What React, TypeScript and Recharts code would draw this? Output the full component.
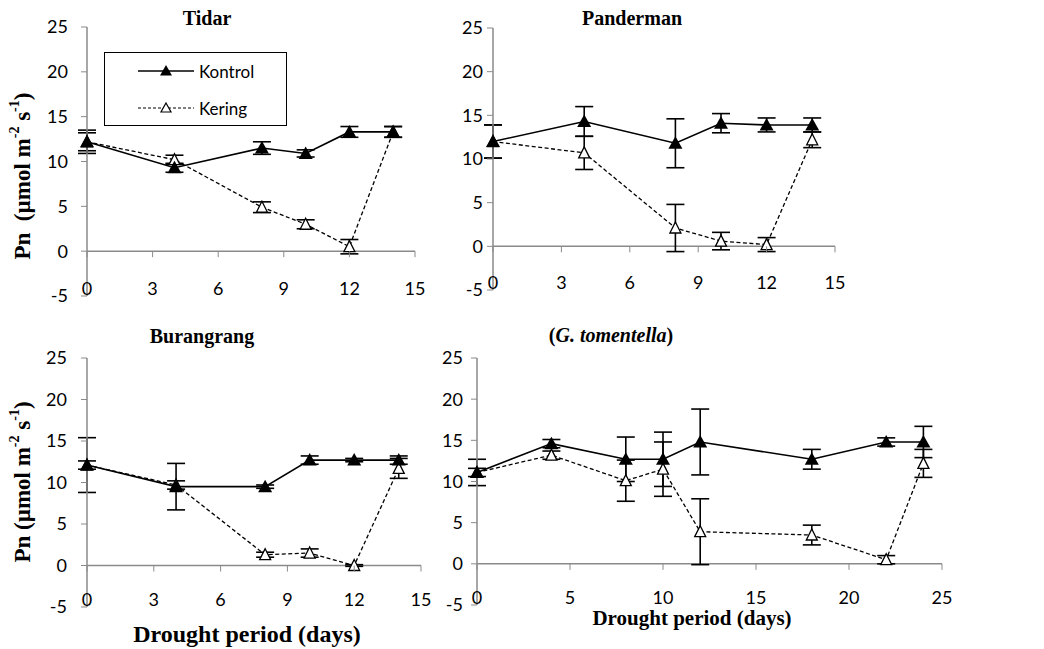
import React from "react";
import { LineChart, Line, XAxis, YAxis, ErrorBar, ReferenceLine, Legend } from "recharts";

// Days of measurement
const shortDays = [0, 4, 8, 10, 12, 14];
const longDays = [0, 4, 8, 10, 12, 18, 22, 24];
const shortTicks = [0, 3, 6, 9, 12, 15];
const longTicks = [0, 5, 10, 15, 20, 25];
const pnTicks = [-5, 0, 5, 10, 15, 20, 25];

// Pn (µmol m-2 s-1); *Err = error bar half-length
const tidarKontrol = [12.2, 9.3, 11.5, 10.9, 13.3, 13.3];
const tidarKontrolErr = [1.3, 0.5, 0.7, 0.4, 0.6, 0.6];
const tidarKering = [12.2, 10.2, 4.9, 3.0, 0.5, 13.3];
const tidarKeringErr = [1.0, 0.5, 0.6, 0.5, 0.8, 0.6];

const pandermanKontrol = [12.0, 14.3, 11.8, 14.1, 13.9, 13.9];
const pandermanKontrolErr = [1.9, 1.7, 2.8, 1.1, 0.8, 0.8];
const pandermanKering = [12.0, 10.7, 2.1, 0.6, 0.2, 12.2];
const pandermanKeringErr = [1.9, 1.9, 2.7, 1.0, 0.8, 0.9];

const burangrangKontrol = [12.1, 9.5, 9.5, 12.7, 12.7, 12.7];
const burangrangKontrolErr = [3.3, 2.8, 0.2, 0.5, 0.2, 0.5];
const burangrangKering = [12.1, 9.7, 1.3, 1.5, 0.0, 11.7];
const burangrangKeringErr = [0.5, 0.5, 0.3, 0.5, 0.1, 1.2];

const tomentellaKontrol = [11.1, 14.6, 12.7, 12.7, 14.8, 12.7, 14.8, 14.8];
const tomentellaKontrolErr = [1.6, 0.5, 2.7, 3.3, 4.0, 1.2, 0.5, 1.9];
const tomentellaKering = [11.1, 13.2, 10.1, 11.5, 3.9, 3.5, 0.5, 12.2];
const tomentellaKeringErr = [0.5, 0.5, 2.5, 3.3, 4.0, 1.2, 0.5, 1.7];

type Row = { day: number; kontrol: number; kontrolErr: number; kering: number; keringErr: number };

const toRows = (days: number[], k: number[], kErr: number[], d: number[], dErr: number[]): Row[] =>
  days.map((day, i) => ({ day, kontrol: k[i], kontrolErr: kErr[i], kering: d[i], keringErr: dErr[i] }));

const GRAY = "#8a8a8a";
const SANS = "Lato, 'Open Sans', sans-serif";
const SERIF = "'Liberation Serif', 'Times New Roman', serif";
const TICK_SIZE = 18;
const X_AXIS_H = 2;

type Rect = { left: number; top: number; right: number; bottom: number };

const solidTriangle = (props: any) => {
  const { cx, cy, index } = props;
  return (
    <path
      key={`ko-${index}`}
      d={`M${cx},${cy - 7} L${cx + 7},${cy + 5.5} L${cx - 7},${cy + 5.5} Z`}
      fill="#000"
    />
  );
};

const hollowTriangle = (props: any) => {
  const { cx, cy, index } = props;
  return (
    <path
      key={`ke-${index}`}
      d={`M${cx},${cy - 6} L${cx + 5.5},${cy + 5} L${cx - 5.5},${cy + 5} Z`}
      fill="#fff"
      stroke="#000"
      strokeWidth={1.3}
    />
  );
};

const legendItems = [
  { name: "Kontrol", dash: undefined as string | undefined, filled: true },
  { name: "Kering", dash: "3 2", filled: false },
];

function LegendBox() {
  return (
    <div
      style={{
        width: 183,
        height: 74,
        border: "1.5px solid #000",
        boxSizing: "border-box",
        background: "#fff",
        position: "relative",
      }}
    >
      {legendItems.map((it, i) => (
        <div
          key={it.name}
          style={{ position: "absolute", left: 33, top: 8 + i * 37, height: 20, display: "flex", alignItems: "center" }}
        >
          <svg width={56} height={20}>
            <line x1={0} x2={56} y1={10} y2={10} stroke="#000" strokeWidth={it.filled ? 1.5 : 1.2} strokeDasharray={it.dash} />
            {it.filled ? (
              <path d="M28,4 L34,14.5 L22,14.5 Z" fill="#000" />
            ) : (
              <path d="M28,5 L33,14 L23,14 Z" fill="#fff" stroke="#000" strokeWidth={1.2} />
            )}
          </svg>
          <span style={{ marginLeft: 5, fontFamily: SANS, fontSize: 17, color: "#000" }}>{it.name}</span>
        </div>
      ))}
    </div>
  );
}

interface PanelProps {
  data: Row[];
  frame: Rect;
  plot: Rect;
  xTicks: number[];
  tickGap: number;
  showLegend?: boolean;
}

function Panel({ data, frame, plot, xTicks, tickGap, showLegend }: PanelProps) {
  const width = frame.right - frame.left;
  const height = frame.bottom - frame.top;
  const margin = {
    top: plot.top - frame.top,
    right: frame.right - plot.right,
    bottom: frame.bottom - plot.bottom - X_AXIS_H,
    left: 0,
  };
  const plotH = plot.bottom - plot.top;
  const zeroY = margin.top + (plotH * 25) / 30;
  const labelY = margin.top + plotH - 8;
  const xMax = xTicks[xTicks.length - 1];

  const renderXTick = (p: any) => (
    <g key={`t-${p.index}`}>
      <line x1={p.x} x2={p.x} y1={zeroY} y2={zeroY + 6} stroke={GRAY} strokeWidth={1} />
      <text x={p.x} y={labelY} textAnchor="middle" dominantBaseline="central" fontFamily={SANS} fontSize={TICK_SIZE} fill="#000">
        {p.payload.value}
      </text>
    </g>
  );

  return (
    <div style={{ position: "absolute", left: frame.left, top: frame.top }}>
      <LineChart width={width} height={height} data={data} margin={margin}>
        <XAxis
          type="number"
          dataKey="day"
          domain={[0, xMax]}
          ticks={xTicks}
          interval={0}
          axisLine={false}
          tickLine={false}
          height={X_AXIS_H}
          tick={renderXTick}
        />
        <YAxis
          type="number"
          domain={[-5, 25]}
          ticks={pnTicks}
          interval={0}
          width={plot.left - frame.left}
          axisLine={{ stroke: GRAY, strokeWidth: 1.5 }}
          tickLine={{ stroke: GRAY, strokeWidth: 1 }}
          tickSize={6}
          tickMargin={tickGap}
          tick={{ fill: "#000", fontSize: TICK_SIZE, fontFamily: SANS }}
        />
        <ReferenceLine y={0} stroke={GRAY} strokeWidth={1.5} />
        <Line
          type="linear"
          dataKey="kering"
          name="Kering"
          stroke="#000"
          strokeWidth={1.3}
          strokeDasharray="4 2.5"
          dot={hollowTriangle}
          activeDot={false}
          isAnimationActive={false}
        >
          <ErrorBar dataKey="keringErr" direction="y" width={9} stroke="#000" strokeWidth={1.6} />
        </Line>
        <Line
          type="linear"
          dataKey="kontrol"
          name="Kontrol"
          stroke="#000"
          strokeWidth={1.6}
          dot={solidTriangle}
          activeDot={false}
          isAnimationActive={false}
        >
          <ErrorBar dataKey="kontrolErr" direction="y" width={9} stroke="#000" strokeWidth={1.6} />
        </Line>
        {showLegend && (
          <Legend
            layout="horizontal"
            align="center"
            verticalAlign="middle"
            content={() => <LegendBox />}
            wrapperStyle={{ left: 104, top: 52, width: 183, height: 74 }}
          />
        )}
      </LineChart>
    </div>
  );
}

function PnLabel({ cx, cy, gap }: { cx: number; cy: number; gap: string }) {
  return (
    <text
      transform={`translate(${cx},${cy}) rotate(-90)`}
      textAnchor="middle"
      dominantBaseline="central"
      fontFamily={SERIF}
      fontWeight="bold"
      fontSize={23}
      fill="#000"
      style={{ whiteSpace: "pre" }}
    >
      {`Pn${gap}(µmol m`}
      <tspan fontSize={14} dy={-8}>-2</tspan>
      <tspan dy={8}> s</tspan>
      <tspan fontSize={14} dy={-8}>-1</tspan>
      <tspan dy={8}>)</tspan>
    </text>
  );
}

export default function App() {
  return (
    <div style={{ position: "absolute", left: 0, top: 0, width: 1044, height: 649, background: "#fff", overflow: "hidden" }}>
      <Panel
        data={toRows(shortDays, tidarKontrol, tidarKontrolErr, tidarKering, tidarKeringErr)}
        frame={{ left: 0, top: 0, right: 430, bottom: 312 }}
        plot={{ left: 87, top: 27, right: 415, bottom: 296 }}
        xTicks={shortTicks}
        tickGap={13}
        showLegend
      />
      <Panel
        data={toRows(shortDays, pandermanKontrol, pandermanKontrolErr, pandermanKering, pandermanKeringErr)}
        frame={{ left: 430, top: 0, right: 860, bottom: 312 }}
        plot={{ left: 493, top: 28, right: 835, bottom: 290 }}
        xTicks={shortTicks}
        tickGap={4}
      />
      <Panel
        data={toRows(shortDays, burangrangKontrol, burangrangKontrolErr, burangrangKering, burangrangKeringErr)}
        frame={{ left: 0, top: 320, right: 440, bottom: 625 }}
        plot={{ left: 87, top: 358, right: 421, bottom: 607 }}
        xTicks={shortTicks}
        tickGap={14}
      />
      <Panel
        data={toRows(longDays, tomentellaKontrol, tomentellaKontrolErr, tomentellaKering, tomentellaKeringErr)}
        frame={{ left: 430, top: 320, right: 1000, bottom: 625 }}
        plot={{ left: 477, top: 358, right: 942, bottom: 605 }}
        xTicks={longTicks}
        tickGap={8}
      />
      <svg width={1044} height={649} style={{ position: "absolute", left: 0, top: 0, pointerEvents: "none" }}>
        <g fontFamily={SERIF} fontWeight="bold" fontSize={20} fill="#000" textAnchor="middle">
          <text x={207} y={25}>Tidar</text>
          <text x={632} y={25}>Panderman</text>
          <text x={202} y={343}>Burangrang</text>
          <text x={611} y={342}>
            (<tspan fontStyle="italic">G. tomentella</tspan>)
          </text>
        </g>
        <PnLabel cx={22} cy={176} gap={"  "} />
        <PnLabel cx={22} cy={482} gap={" "} />
        <text x={247} y={642} textAnchor="middle" fontFamily={SERIF} fontWeight="bold" fontSize={24} fill="#000">
          Drought period (days)
        </text>
        <text x={692} y={625} textAnchor="middle" fontFamily={SERIF} fontWeight="bold" fontSize={21} fill="#000">
          Drought period (days)
        </text>
      </svg>
    </div>
  );
}
